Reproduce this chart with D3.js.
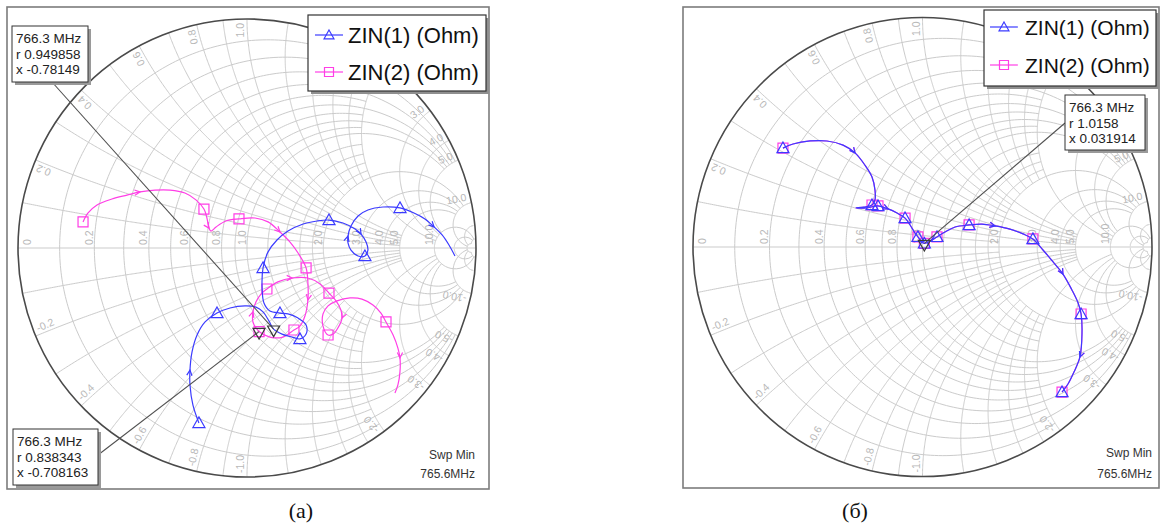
<!DOCTYPE html>
<html>
<head>
<meta charset="utf-8">
<script src="https://cdn.jsdelivr.net/npm/d3@7"></script>
<style>
  html, body { margin: 0; padding: 0; background: #fff; }
  svg { display: block; font-family: "Liberation Sans", Arial, sans-serif; }
</style>
</head>
<body>
<svg id="chart" width="1161" height="526"></svg>
<script>
// ---------------------------------------------------------------------------
// Sweep data: reflection coefficient samples [Re Γ, Im Γ], sweep starts at 765.6 MHz
// ---------------------------------------------------------------------------

// Panel (а), ZIN(1)
const zin1A = [
  [-0.210,-0.764],[-0.236,-0.686],[-0.249,-0.598],[-0.249,-0.533],[-0.240,-0.454],
  [-0.218,-0.380],[-0.183,-0.323],[-0.131,-0.284],[-0.074,-0.262],[-0.009,-0.253],
  [0.039,-0.258],[0.070,-0.279],[0.096,-0.319],[0.1163,-0.3542],[0.153,-0.376],
  [0.197,-0.389],[0.231,-0.397],[0.258,-0.376],[0.258,-0.336],[0.223,-0.306],
  [0.179,-0.288],[0.144,-0.284],[0.100,-0.275],[0.074,-0.240],[0.066,-0.175],
  [0.070,-0.087],[0.092,-0.017],[0.131,0.035],[0.179,0.074],[0.245,0.105],
  [0.306,0.118],[0.358,0.122],[0.419,0.109],[0.472,0.083],[0.498,0.061],
  [0.520,0.026],[0.528,-0.009],[0.515,-0.035],[0.485,-0.035],[0.454,-0.009],
  [0.441,0.022],[0.441,0.052],[0.454,0.096],[0.485,0.140],[0.528,0.166],
  [0.594,0.179],[0.668,0.175],[0.729,0.153],[0.777,0.127],[0.817,0.092],
  [0.852,0.057],[0.882,0.013],[0.908,-0.035]
];
const zin1ASymbols = [0, 7, 16, 21, 25, 31, 37, 46];
const zin1AArrows  = [3, 34, 41, 49];

// Panel (а), ZIN(2)
const zin2A = [
  [-0.716,0.114],[-0.694,0.153],[-0.655,0.188],[-0.590,0.214],[-0.524,0.231],
  [-0.467,0.245],[-0.402,0.253],[-0.336,0.253],[-0.271,0.240],[-0.223,0.210],
  [-0.188,0.170],[-0.175,0.131],[-0.166,0.087],[-0.157,0.074],[-0.135,0.092],
  [-0.092,0.118],[-0.035,0.127],[0.035,0.131],[0.092,0.114],[0.144,0.070],
  [0.188,0.026],[0.223,-0.022],[0.258,-0.087],[0.266,-0.153],[0.266,-0.227],
  [0.253,-0.297],[0.231,-0.341],[0.205,-0.358],[0.157,-0.389],[0.100,-0.389],
  [0.0526,-0.3649],[0.026,-0.323],[0.026,-0.279],[0.039,-0.236],[0.061,-0.201],
  [0.087,-0.179],[0.135,-0.148],[0.197,-0.131],[0.266,-0.131],[0.319,-0.157],
  [0.358,-0.197],[0.389,-0.231],[0.410,-0.271],[0.415,-0.306],[0.397,-0.349],
  [0.376,-0.376],[0.354,-0.380],[0.332,-0.341],[0.332,-0.288],[0.354,-0.253],
  [0.393,-0.231],[0.450,-0.218],[0.502,-0.223],[0.550,-0.249],[0.585,-0.284],
  [0.607,-0.323],[0.638,-0.380],[0.659,-0.437],[0.668,-0.480],[0.668,-0.541],
  [0.659,-0.598],[0.646,-0.633]
];
const zin2ASymbols = [0, 10, 16, 22, 27, 30, 35, 40, 46, 55];
const zin2AArrows  = [5, 12, 19, 24, 32, 37, 43, 58];

// Panel (б), ZIN(1)
const zin1B = [
  [-0.608,0.431],[-0.564,0.449],[-0.490,0.462],[-0.416,0.462],[-0.346,0.444],
  [-0.294,0.410],[-0.251,0.357],[-0.220,0.305],[-0.207,0.248],[-0.207,0.205],
  [-0.220,0.183],[-0.255,0.174],[-0.290,0.170],[-0.246,0.170],[-0.194,0.179],
  [-0.150,0.166],[-0.111,0.148],[-0.076,0.126],[-0.054,0.096],[-0.033,0.061],
  [-0.020,0.044],[-0.002,0.022],[0.0081,0.0157],[0.033,0.026],[0.063,0.044],
  [0.098,0.065],[0.142,0.087],[0.203,0.096],[0.259,0.100],[0.316,0.092],
  [0.381,0.078],[0.438,0.057],[0.481,0.035],[0.525,-0.013],[0.569,-0.065],
  [0.612,-0.118],[0.651,-0.187],[0.678,-0.244],[0.691,-0.292],[0.695,-0.375],
  [0.686,-0.479],[0.660,-0.545],[0.634,-0.597],[0.608,-0.632]
];
const zin1BSymbols = [0, 10, 14, 17, 20, 22, 24, 27, 32, 38, 43];
const zin1BArrows  = [5, 15, 29, 35, 40];

// Panel (б), ZIN(2): the port-2 sweep lies on the port-1 sweep
const zin2B = zin1B;
const zin2BSymbols = zin1BSymbols;
const zin2BArrows  = zin1BArrows;

// Marker readouts at 766.3 MHz (normalised impedance r + jx)
const markerFreq = "766.3 MHz";
const markersA = [
  { r: 0.949858, x: -0.78149 },
  { r: 0.838343, x: -0.708163 }
];
const markersB = [
  { r: 1.0158, x: 0.031914 }
];

const sweepStart = "765.6MHz";
const seriesNames = ["ZIN(1) (Ohm)", "ZIN(2) (Ohm)"];

// Smith grid: resistance circles / reactance arcs and their labels
const rGrid = [0.1,0.2,0.3,0.4,0.5,0.6,0.7,0.8,0.9,1.0,1.2,1.4,1.6,1.8,2,3,4,5,10,20,50];
const xGrid = [0.1,0.2,0.3,0.4,0.5,0.6,0.7,0.8,0.9,1.0,1.2,1.4,1.6,1.8,2,3,4,5,10,20,50];
const rAxisLabels = [0,0.2,0.4,0.6,0.8,1.0,2.0,3.0,4.0,5.0,10.0];
const xEdgeLabels = [0.2,0.4,0.6,0.8,1.0,2.0,3.0,4.0,5.0,10.0];

// ---------------------------------------------------------------------------
// Styles and layout
// ---------------------------------------------------------------------------
const BLUE = "#3b3bff";
const MAGENTA = "#ff3ee6";
const GRID = "#cbcbcb";
const GRID_TEXT = "#b8b8b8";

const panels = [
  {
    cx: 247, cy: 248, R: 229,
    frame: { x: 7, y: 7, w: 482, h: 482 },
    legend: { x: 308, y: 15, w: 178, h: 76, rows: [35, 72], lx0: 315, lx1: 343, tx: 348, fs: 22 },
    swp: { x: 475, y1: 459, y2: 478 },
    caption: { x: 301, y: 518, text: "(а)" },
    traces: [
      { data: zin2A, sym: zin2ASymbols, arr: zin2AArrows, color: MAGENTA, shape: "square" },
      { data: zin1A, sym: zin1ASymbols, arr: zin1AArrows, color: BLUE, shape: "triangle" }
    ],
    markers: markersA,
    notes: [
      { box: { x: 12, y: 26, w: 76, h: 56 }, from: [52, 82], marker: 0 },
      { box: { x: 13, y: 429, w: 85, h: 56 }, from: [98, 455], marker: 1 }
    ]
  },
  {
    cx: 922.5, cy: 247, R: 229.5,
    frame: { x: 683, y: 7, w: 476, h: 481 },
    legend: { x: 984, y: 10, w: 172, h: 76, rows: [27, 65], lx0: 990, lx1: 1018, tx: 1025, fs: 21 },
    swp: { x: 1152, y1: 457, y2: 478 },
    caption: { x: 855, y: 518, text: "(б)" },
    traces: [
      { data: zin2B, sym: zin2BSymbols, arr: zin2BArrows, color: MAGENTA, shape: "square" },
      { data: zin1B, sym: zin1BSymbols, arr: zin1BArrows, color: BLUE, shape: "triangle" }
    ],
    markers: markersB,
    notes: [
      { box: { x: 1065, y: 95, w: 80, h: 55 }, from: [1065, 123], marker: 0 }
    ]
  }
];

// ---------------------------------------------------------------------------
const svg = d3.select("#chart");

// Γ = (z - 1) / (z + 1) for z = r + jx
function zToGamma(r, x) {
  const den = (r + 1) * (r + 1) + x * x;
  return [((r - 1) * (r + 1) + x * x) / den, (2 * x) / den];
}

// how far a grid line runs along the crossing family
function clipLimit(v) {
  if ([0.2, 0.4, 0.6, 0.8, 1.0].includes(v)) return 5;
  if (v < 2) return 2;
  if (v <= 5) return 10;
  return 50;
}

function symbolPath(shape, s) {
  if (shape === "triangle") {
    return `M0,${-s * 0.55}L${s * 0.55},${s * 0.42}L${-s * 0.55},${s * 0.42}Z`;
  }
  if (shape === "square") {
    const h = s / 2;
    return `M${-h},${-h}L${h},${-h}L${h},${h}L${-h},${h}Z`;
  }
  // inverted triangle for marker readouts
  return `M0,${s * 0.55}L${s * 0.55},${-s * 0.42}L${-s * 0.55},${-s * 0.42}Z`;
}

function fmt(v) { return v === 0 ? "0" : v.toFixed(1); }

panels.forEach(p => {
  const g = svg.append("g");
  const sx = d3.scaleLinear().domain([-1, 1]).range([p.cx - p.R, p.cx + p.R]);
  const sy = d3.scaleLinear().domain([-1, 1]).range([p.cy + p.R, p.cy - p.R]);
  const line = d3.line().x(d => sx(d[0])).y(d => sy(d[1]));
  const smooth = d3.line().x(d => sx(d[0])).y(d => sy(d[1])).curve(d3.curveCatmullRom.alpha(0.5));
  const rad = sx(1) - sx(0);

  // panel frame
  g.append("rect")
    .attr("x", p.frame.x).attr("y", p.frame.y)
    .attr("width", p.frame.w).attr("height", p.frame.h)
    .attr("fill", "#fff").attr("stroke", "#7c7c7c").attr("stroke-width", 1.6);

  // grid
  const grid = g.append("g").attr("fill", "none").attr("stroke", GRID).attr("stroke-width", 1);
  const N = 240;
  rGrid.forEach(r => {
    const tMax = Math.atan(clipLimit(r));
    const pts = d3.range(N + 1).map(i => zToGamma(r, Math.tan(-tMax + 2 * tMax * i / N)));
    grid.append("path").attr("d", line(pts));
  });
  xGrid.forEach(x => {
    const sMax = Math.atan(clipLimit(x));
    [x, -x].forEach(xx => {
      const pts = d3.range(N + 1).map(i => zToGamma(Math.tan(sMax * i / N), xx));
      grid.append("path").attr("d", line(pts));
    });
  });
  grid.append("line")
    .attr("x1", sx(-1)).attr("x2", sx(1)).attr("y1", sy(0)).attr("y2", sy(0));

  // grid labels
  const lab = g.append("g").attr("fill", GRID_TEXT).attr("font-size", 10.5);
  rAxisLabels.forEach(v => {
    const gx = zToGamma(v, 0)[0];
    const px = v === 0 ? sx(-1) + 14 : sx(gx);
    lab.append("text")
      .attr("transform", `translate(${px},${sy(0) - 3}) rotate(-90)`)
      .attr("dy", -1.5)
      .attr("text-anchor", "start")
      .text(fmt(v));
  });
  xEdgeLabels.forEach(v => {
    [v, -v].forEach(xx => {
      const th = xx > 0 ? Math.PI - 2 * Math.atan(xx) : -(Math.PI - 2 * Math.atan(-xx));
      const deg = th * 180 / Math.PI;
      const px = sx(0) + (rad - 4) * Math.cos(th);
      const py = sy(0) - (rad - 4) * Math.sin(th);
      lab.append("text")
        .attr("transform", `translate(${px},${py}) rotate(${xx > 0 ? -deg : 180 - deg})`)
        .attr("dy", -3)
        .attr("text-anchor", xx > 0 ? "end" : "start")
        .text((xx < 0 ? "-" : "") + fmt(Math.abs(xx)));
    });
  });

  // outer unit circle
  g.append("circle")
    .attr("cx", sx(0)).attr("cy", sy(0)).attr("r", rad)
    .attr("fill", "none").attr("stroke", "#4a4a4a").attr("stroke-width", 1.6);

  // traces
  p.traces.forEach(t => {
    const tg = g.append("g");
    tg.append("path")
      .attr("d", smooth(t.data))
      .attr("fill", "none").attr("stroke", t.color).attr("stroke-width", 1.2);
    // direction arrows
    t.arr.forEach(i => {
      const a = t.data[i], b = t.data[i + 1];
      const x0 = sx(a[0]), y0 = sy(a[1]), x1 = sx(b[0]), y1 = sy(b[1]);
      const ang = Math.atan2(y1 - y0, x1 - x0);
      const len = 6, spread = 0.45;
      const p1 = [x0 - len * Math.cos(ang - spread), y0 - len * Math.sin(ang - spread)];
      const p2 = [x0 - len * Math.cos(ang + spread), y0 - len * Math.sin(ang + spread)];
      tg.append("path")
        .attr("d", `M${p1[0]},${p1[1]}L${x0},${y0}L${p2[0]},${p2[1]}`)
        .attr("fill", "none").attr("stroke", t.color).attr("stroke-width", 1.2);
    });
    // trace symbols
    t.sym.forEach(i => {
      const d = t.data[i];
      tg.append("path")
        .attr("transform", `translate(${sx(d[0])},${sy(d[1])})`)
        .attr("d", symbolPath(t.shape, t.shape === "square" ? 10 : 11))
        .attr("fill", "none").attr("stroke", t.color).attr("stroke-width", 1.2);
    });
  });

  // marker readouts: leader line, box, inverted triangle at the marked point
  p.notes.forEach(n => {
    const m = p.markers[n.marker];
    const gm = zToGamma(m.r, m.x);
    const mx = sx(gm[0]), my = sy(gm[1]);
    g.append("line")
      .attr("x1", n.from[0]).attr("y1", n.from[1]).attr("x2", mx).attr("y2", my)
      .attr("stroke", "#505050").attr("stroke-width", 1.1);
  });
  p.markers.forEach(m => {
    const gm = zToGamma(m.r, m.x);
    g.append("path")
      .attr("transform", `translate(${sx(gm[0])},${sy(gm[1]) + 1.5})`)
      .attr("d", symbolPath("marker", 11))
      .attr("fill", "none").attr("stroke", "#3a3a3a").attr("stroke-width", 1.2);
  });
  p.notes.forEach(n => {
    const m = p.markers[n.marker];
    const b = n.box;
    g.append("rect")
      .attr("x", b.x + 3).attr("y", b.y + 3).attr("width", b.w).attr("height", b.h)
      .attr("fill", "#9a9a9a");
    g.append("rect")
      .attr("x", b.x).attr("y", b.y).attr("width", b.w).attr("height", b.h)
      .attr("fill", "#fff").attr("stroke", "#333").attr("stroke-width", 1);
    const lines = [markerFreq, "r " + m.r, "x " + m.x];
    lines.forEach((s, k) => {
      g.append("text")
        .attr("x", b.x + 4).attr("y", b.y + 17 + k * 15.7)
        .attr("font-size", 13.5).attr("fill", "#222")
        .text(s);
    });
  });

  // legend
  const L = p.legend;
  g.append("rect")
    .attr("x", L.x + 3).attr("y", L.y + 3).attr("width", L.w).attr("height", L.h)
    .attr("fill", "#8f8f8f");
  g.append("rect")
    .attr("x", L.x).attr("y", L.y).attr("width", L.w).attr("height", L.h)
    .attr("fill", "#fff").attr("stroke", "#333").attr("stroke-width", 1.2);
  const legendItems = [
    { name: seriesNames[0], color: BLUE, shape: "triangle" },
    { name: seriesNames[1], color: MAGENTA, shape: "square" }
  ];
  legendItems.forEach((it, k) => {
    const y = L.rows[k];
    g.append("line")
      .attr("x1", L.lx0).attr("x2", L.lx1).attr("y1", y).attr("y2", y)
      .attr("stroke", it.color).attr("stroke-width", 1.2);
    g.append("path")
      .attr("transform", `translate(${(L.lx0 + L.lx1) / 2},${y})`)
      .attr("d", symbolPath(it.shape, it.shape === "square" ? 9 : 9))
      .attr("fill", "none").attr("stroke", it.color).attr("stroke-width", 1.2);
    g.append("text")
      .attr("x", L.tx).attr("y", y).attr("dy", "0.36em")
      .attr("font-size", L.fs).attr("fill", "#111")
      .text(it.name);
  });

  // sweep start note
  g.append("text").attr("x", p.swp.x).attr("y", p.swp.y1)
    .attr("text-anchor", "end").attr("font-size", 12).attr("fill", "#333").text("Swp Min");
  g.append("text").attr("x", p.swp.x).attr("y", p.swp.y2)
    .attr("text-anchor", "end").attr("font-size", 12).attr("fill", "#333").text(sweepStart);

  // caption
  svg.append("text")
    .attr("x", p.caption.x).attr("y", p.caption.y)
    .attr("text-anchor", "middle")
    .attr("font-family", "'Liberation Serif', 'Times New Roman', serif")
    .attr("font-size", 22).attr("fill", "#111")
    .text(p.caption.text);
});
</script>
</body>
</html>
